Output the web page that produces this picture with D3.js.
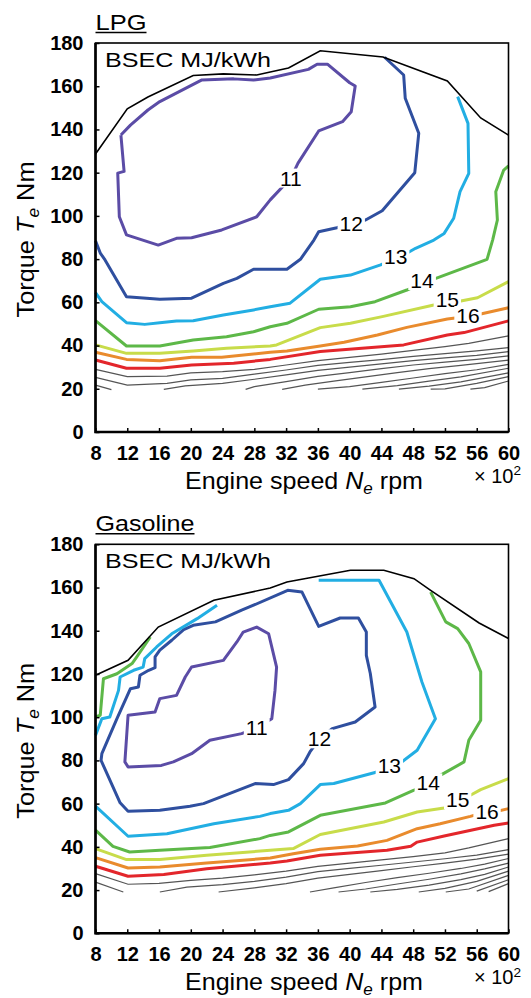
<!DOCTYPE html>
<html lang="en">
<head>
<meta charset="utf-8">
<title>BSEC maps: LPG and Gasoline</title>
<script src="https://cdn.jsdelivr.net/npm/d3@7"></script>
<style>
  body { margin: 0; background: #fff; }
  svg text { font-family: "Liberation Sans", Arial, sans-serif; fill: #000; }
  .axis .tick text { font-size: 20px; font-weight: bold; }
  .axis .tick line { stroke: #000; stroke-width: 1.5; }
  .axis path.domain { display: none; }
  .clabel { font-size: 21px; }
</style>
</head>
<body>
<script>
// ---- data (speed in x100 rpm, torque in Nm) ----
var speedTicks = [8, 12, 16, 20, 24, 28, 32, 36, 40, 44, 48, 52, 56, 60];
var torqueTicks = [0, 20, 40, 60, 80, 100, 120, 140, 160, 180];
var contourLevels = [11, 12, 13, 14, 15, 16, 17];
var levelColors = ["#5b4ca6", "#2f4f9f", "#22aee3", "#5db848", "#c8dc4a", "#e98b2d", "#e3262b"];

// LPG
var lpgWot = [[8,128.6],[12,149.5],[14.6,155],[20.3,165],[24.1,165.7],[28.3,165.2],[30,166.6],[32.3,168.4],[36.3,176.4],[44.2,173.5],[52.3,162.4],[56.5,145.3],[60,137.4]];
var lpg11 = [[11.2,137.4],[11.6,120.6],[10.8,119.8],[11,99.6],[11.9,91.2],[15.9,86.5],[18.2,89.6],[20.1,89.9],[23.9,93.5],[28.3,99.6],[30,107.4],[32.6,117.5],[33.5,124.4],[36.1,139.3],[39.1,143.6],[40.2,148.2],[40.7,160.1],[40,161.6],[37.2,170.2],[35.9,170.2],[34.8,167.8],[30,163.8],[27.9,162.9],[25.4,163.4],[21.4,162.9],[16.1,152.9],[14.6,149],[12.4,142],[11.2,137.4]];
var lpg12 = [[8,88.5],[8.6,82.8],[9.2,79.6],[11.9,62.6],[16.1,61.4],[20.1,61.9],[24.1,68.8],[25.8,71.1],[27.9,75.3],[32.1,75.3],[33.8,79.9],[35.5,88.8],[36.1,92.7],[38.4,94.5],[40.1,96.6],[42,98.1],[44.1,102.4],[48.2,120],[48.7,138.2],[47,154.4],[46.8,165.2],[44.4,173.4]];
var lpg13 = [[8,64.5],[8.8,60.3],[11.9,50.6],[14.2,49.8],[16.1,50.6],[18.2,51.4],[20.3,51.5],[24.1,54.1],[27.9,56.5],[30,58],[32.5,59.6],[36.3,70.7],[40.1,72.6],[43.9,77.3],[45.8,80.5],[47.2,82.7],[48.3,85],[50.6,88.8],[51.9,91.9],[53.1,98.9],[53.9,111.2],[55,119.7],[54.9,142.8],[53.6,155.2]];
var lpg14 = [[8,51.5],[11.9,39.8],[16.1,39.8],[20.3,42.6],[24.5,44.1],[27.9,46.4],[30,48.7],[32.1,50.3],[36.1,56.8],[40.1,58],[43.2,60.3],[47.2,65.7],[48.9,68.5],[50.6,70.7],[57.3,79.9],[58,88.8],[58.6,98.1],[58.4,111.2],[59.4,121.2],[60,123.1]];
var lpg15 = [[8,40.3],[11.9,36.4],[16.1,36.4],[20.3,37.5],[24.5,38.7],[30,39.8],[30.8,40.3],[36.3,48.3],[40.1,50.3],[44.1,53.4],[50.6,58.8],[52.3,60],[54,60.6],[56.1,62.1],[60,69.6]];
var lpg16 = [[8,36.9],[11.9,33.6],[16.1,33],[20.1,34.6],[23.9,34.6],[27.9,36.1],[30,36.9],[32.1,37.5],[36.3,39.8],[39.3,41.5],[43.5,44.9],[47.2,48.4],[52.3,52.3],[54.8,53.4],[56.5,54.6],[60,57.5]];
var lpg17 = [[8,33.3],[11.9,29.5],[16.1,29.5],[20.1,31],[25.4,31.8],[30,33.6],[36.3,37.2],[46.8,40.3],[52.3,44.9],[54.4,46],[60,51.4]];
var lpgGrey = [
  [[8,29],[12,25.6],[17,25.9],[20,27.4],[24,27.9],[28,29],[32,31],[36,33],[40,34.5],[44,36],[48,37.8],[52,39.5],[55,41],[60,44.5]],
  [[8,25.3],[12,21.7],[17,22.5],[20,24.1],[24,24.8],[28,26.8],[32,28.7],[36,30.8],[40,32.2],[44,33.5],[48,35],[52,36.3],[56,37.5],[60,39]],
  [[8,21.7],[10,19.6]],
  [[16.6,19.7],[19.3,21.3],[24,22.5],[28,24.4],[32,26.4],[36,28.5],[40,30],[44,31.5],[48,33],[52,34.3],[56,35.5],[60,37.2]],
  [[26.9,19.7],[28,21],[32,23.3],[36,25.7],[40,27.5],[44,29.3],[48,31],[52,32.3],[56,33.6],[60,35.2]],
  [[31.5,19.7],[34.4,21.7],[38,23.5],[42,25.5],[46,27.5],[50,29.3],[54,30.8],[60,33.3]],
  [[36,19.8],[40,21],[44,23],[48,25],[52,27],[56,28.8],[60,31.3]],
  [[41.6,19.8],[46,21.5],[50,23.5],[54,25.5],[60,29.5]],
  [[46.2,19.8],[50,21.2],[54,23.2],[60,27.4]],
  [[50.2,19.8],[52,20],[56,22.5],[60,25.6]],
  [[55.2,19.8],[57,20.5],[60,23.6]]
];
var lpgLabelAt = [[32.6,117.5],[40.2,96.5],[45.8,81.2],[49.1,70.1],[52.3,61.3],[54.9,53.9]];

// Gasoline
var gasWot = [[8,119.4],[12.1,126.3],[15.9,141.7],[22.9,154.1],[30,159.8],[32.1,162.6],[40.1,168],[44.3,168],[48.1,164.1],[50.2,158.7],[56.3,143.6],[60,136.4]];
var gas11 = [[28.3,95.1],[30.2,99.3],[30.6,112.4],[30.8,123.2],[29.8,138.6],[28.3,141.7],[26.6,139.4],[25.8,134.8],[24.1,126.3],[20.1,123.2],[19.3,118.6],[18.2,110.1],[16.1,108.6],[15.5,102.4],[12.1,100.9],[11.7,79.3],[12.1,77],[16.3,77.7],[17.8,79.3],[20.1,83.1],[22.4,89.3],[26.4,92.4],[28.3,95.1]];
var gas12 = [[36.2,90],[37.8,94.7],[40.7,97.8],[43.2,104.7],[42.6,120.2],[42.1,128.6],[42.1,139.4],[41.1,145.9],[38.8,145.9],[36.1,142],[34,157.9],[32.2,158.7],[27.9,151.8],[26.4,149.5],[23.1,144.1],[20.3,142.5],[19.1,140.5],[17.6,135.6],[16.1,131],[15.5,127.9],[15.5,122.9],[14.7,121.7],[13.6,119.4],[13.4,114],[12.4,113.2],[10.7,99.3],[8.8,83.1],[8.7,80],[11.1,60.4],[12.1,56.5],[16.1,56.9],[19.9,58.8],[21.6,60],[28.1,69.3],[30.4,68.8],[32.3,71.1],[34.2,78.5],[35,83.9],[36.2,90]];
var gas13a = [[8,91.6],[8.8,99.3],[9.8,100.1],[10.9,112.4],[11.1,118.6],[12.8,121.7],[14,123.2],[14.2,127.1],[15.7,132.5],[17.6,138.6],[20.8,145.6],[23.3,151.8]];
var gas13b = [[36.1,163.4],[43.7,163.4],[47.2,139.4],[49.1,116.3],[50.8,99.3],[48.5,84.7],[46.4,78.8],[45,77.7],[43.2,74.4],[38,69.3],[36.3,68.8],[33.8,60],[32.3,56.9],[30,55.4],[28.7,54.1],[22.9,50.7],[17,46.1],[12.1,44.9],[8,58.8]];
var gas14a = [[8,100.1],[8.6,100.9],[9,117.8],[10.7,120.1],[12.6,124.8],[13.2,127.9],[14.9,137.1]];
var gas14b = [[50.2,157.9],[52.1,144.1],[53.6,141],[55,134.1],[56.5,121],[56.5,98.6],[55,89.3],[54.4,79.3],[51.4,73.1],[49.9,69.6],[48.1,66.2],[44.5,60.3],[36.3,54.6],[32.3,46.9],[30,45.3],[28.7,43.8],[22.4,39.7],[16.1,38.4],[12.3,37.6],[10.2,40.2],[8,47.7]];
var gas15 = [[8,39.2],[11.9,34.1],[16.1,34.1],[22,36.1],[30,38.4],[32.9,39.2],[36.3,45.7],[44.3,51.5],[48.5,56.1],[51.9,58],[53.5,61.5],[55.2,63.9],[56.5,66.5],[60,71.6]];
var gas16 = [[8,35],[12.1,30.2],[16.1,30.7],[22,32.5],[30,34.8],[32.9,36.8],[36.3,38.9],[41,40.4],[44.7,43],[48.5,48.4],[51.4,50.7],[55.2,54.1],[57.1,56.1],[58.6,56.5],[60,57.7]];
var gas17 = [[8,31],[12.1,26.4],[16.6,27.2],[22,29.9],[30,32.5],[32.1,33.5],[36.3,36.1],[44.7,38.4],[47.7,40.3],[48.5,42.2],[51.9,45],[58.2,50],[60,51]];
var gasGrey = [
  [[8,27.6],[12.1,22.7],[16,23.1],[20,24.5],[24,25.5],[28,27],[32,28.8],[36,31],[40,32.5],[44,34],[48,35.5],[52,37.2],[55,39.5],[60,43.8]],
  [[8,23.7],[11.5,19.1]],
  [[16.1,19.1],[19.5,21.4],[24,22.5],[28,24],[32,26],[36,28.5],[40,30],[44,31.5],[48,33],[52,34.5],[56,36.2],[60,38.7]],
  [[23.5,19.1],[28,21],[32,23],[36,25.5],[40,27.3],[44,29],[48,30.8],[52,32.5],[56,34.3],[60,36.6]],
  [[35,19.1],[38,21],[42,23.5],[46,25.8],[50,27.8],[54,30],[57,32],[60,34.6]],
  [[38.6,19.1],[42,20.5],[46,22.8],[50,25],[54,27.5],[57,29.8],[60,32.5]],
  [[42.6,19.1],[46,20.3],[50,22.3],[54,24.8],[57,27.3],[60,30.7]],
  [[48.7,19.1],[52,20.8],[56,24],[60,28.8]],
  [[52.1,19.1],[55,20.5],[60,26.8]],
  [[56,19.5],[60,24.8]],
  [[57.5,19.3],[60,23]]
];
var gasLabelAt = [[28.3,95.1],[36.2,90],[45,77.7],[49.9,69.6],[53.6,61.8],[57.3,56.2]];

// ---- layout ----
var W = 531, H = 998;
var xL = 95.5, xR = 508.5, plotH = 389;

var panels = [
  { name: "LPG", top: 43, nameW: 51, wot: lpgWot, grey: lpgGrey, labelAt: lpgLabelAt,
    lines: [[lpg11, 0], [lpg12, 1], [lpg13, 2], [lpg14, 3], [lpg15, 4], [lpg16, 5], [lpg17, 6]] },
  { name: "Gasoline", top: 544.3, nameW: 99, wot: gasWot, grey: gasGrey, labelAt: gasLabelAt,
    lines: [[gas11, 0], [gas12, 1], [gas13a, 2], [gas13b, 2], [gas14a, 3], [gas14b, 3], [gas15, 4], [gas16, 5], [gas17, 6]] }
];

var svg = d3.select("body").append("svg").attr("width", W).attr("height", H);

var x = d3.scaleLinear().domain([8, 60]).range([xL, xR]);
var y = d3.scaleLinear().domain([0, 180]).range([plotH, 0]);
var line = d3.line().x(function(d) { return x(d[0]); }).y(function(d) { return y(d[1]); });

// text built from parts, then stretched to a target width
function fitText(parent, parts, size, anchor, tx, ty, rot, targetW) {
  var g = parent.append("g");
  var t = g.append("text").style("font-size", size + "px").attr("text-anchor", anchor);
  var shift = 0;
  parts.forEach(function(p) {
    var s = t.append("tspan").text(p.t);
    var want = p.sub ? size * 0.22 : (p.sup ? -size * 0.38 : 0);
    s.attr("dy", want - shift); shift = want;
    if (p.italic) s.style("font-style", "italic");
    if (p.sub || p.sup) s.style("font-size", (size * 0.68) + "px");
  });
  var bw = t.node().getBBox().width;
  var k = targetW ? targetW / bw : 1;
  g.attr("transform", "translate(" + tx + "," + ty + ") rotate(" + rot + ") scale(" + k + ",1)");
  return g;
}

panels.forEach(function(p) {
  var g = svg.append("g").attr("transform", "translate(0," + p.top + ")");

  // grey contours (17+)
  g.selectAll(".grey").data(p.grey).enter().append("path")
    .attr("d", line).attr("fill", "none")
    .attr("stroke", "#555").attr("stroke-width", 1.2);

  // coloured contours
  g.selectAll(".cl").data(p.lines).enter().append("path")
    .attr("d", function(d) { return line(d[0]); })
    .attr("fill", "none")
    .attr("stroke", function(d) { return levelColors[d[1]]; })
    .attr("stroke-width", 3).attr("stroke-linejoin", "round");

  // full-load torque curve
  g.append("path").datum(p.wot).attr("d", line)
    .attr("fill", "none").attr("stroke", "#000").attr("stroke-width", 1.6);

  // contour labels with white gap
  p.labelAt.forEach(function(d, i) {
    var lg = g.append("g");
    var t = lg.append("text").attr("class", "clabel")
      .attr("x", x(d[0])).attr("y", y(d[1]))
      .attr("text-anchor", "middle").attr("dominant-baseline", "central")
      .text(contourLevels[i]);
    var bb = t.node().getBBox();
    lg.insert("rect", "text")
      .attr("x", bb.x - 2).attr("y", bb.y + 2)
      .attr("width", bb.width + 4).attr("height", bb.height - 4)
      .attr("fill", "#fff");
  });

  // frame
  g.append("rect").attr("x", xL).attr("y", 0).attr("width", xR - xL).attr("height", plotH)
    .attr("fill", "none").attr("stroke", "#000").attr("stroke-width", 1.6);
  g.append("path").attr("d", "M" + xL + ",0V" + plotH + "H" + xR)
    .attr("fill", "none").attr("stroke", "#000").attr("stroke-width", 2.6);

  // axes
  g.append("g").attr("class", "axis")
    .attr("transform", "translate(" + xL + ",0)")
    .call(d3.axisLeft(y).tickValues(torqueTicks).tickSizeInner(-4).tickSizeOuter(0).tickPadding(12));
  g.append("g").attr("class", "axis")
    .attr("transform", "translate(0," + plotH + ")")
    .call(d3.axisBottom(x).tickValues(speedTicks).tickSizeInner(-4).tickSizeOuter(0).tickPadding(14));

  // panel name, underlined
  fitText(g, [{t: p.name}], 22, "start", xL, -13, 0, p.nameW);
  g.append("line").attr("x1", xL).attr("x2", xL + p.nameW)
    .attr("y1", -10.5).attr("y2", -10.5).attr("stroke", "#000").attr("stroke-width", 1.6);

  fitText(g, [{t: "BSEC MJ/kWh"}], 20, "start", 105, 23.7, 0, 166);

  // axis titles
  fitText(g, [{t: "Torque "}, {t: "T", italic: true}, {t: "e", italic: true, sub: true}, {t: " Nm"}],
    23, "middle", 34, plotH / 2 + 2, -90, 156);
  fitText(g, [{t: "Engine speed "}, {t: "N", italic: true}, {t: "e", italic: true, sub: true}, {t: " rpm"}],
    23, "middle", 304, plotH + 56.5, 0, 238);
  fitText(g, [{t: "\u00d7 10"}, {t: "2", sup: true}], 20, "start", 474, plotH + 51, 0, null);
});
</script>
</body>
</html>
